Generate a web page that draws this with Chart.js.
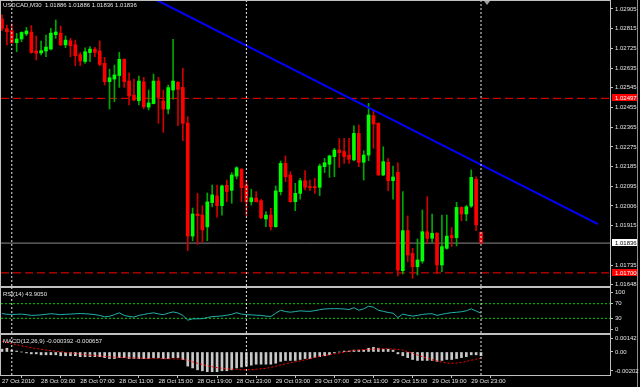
<!DOCTYPE html>
<html>
<head>
<meta charset="utf-8">
<script src="https://cdn.jsdelivr.net/npm/chart.js@4.4.0/dist/chart.umd.min.js"></script>
<style>
  html, body { margin: 0; padding: 0; background: #000; }
  #wrap { position: relative; width: 640px; height: 387px; overflow: hidden; background: #000; }
  #wrap canvas { position: absolute; left: 0; }
</style>
</head>
<body>
<div id="wrap">
  <canvas id="main" width="640" height="287" style="top:0"></canvas>
  <canvas id="rsi" width="640" height="47" style="top:287px"></canvas>
  <canvas id="macd" width="640" height="53" style="top:334px"></canvas>
</div>
<script>
// USDCAD M30, one entry per bar, first bar 27 Oct 23:00
const open = [1.02859,1.02815,1.02805,1.02751,1.02768,1.02791,1.02800,1.02713,1.02704,1.02713,
  1.02722,1.02788,1.02795,1.02741,1.02760,1.02742,1.02696,1.02665,1.02706,1.02722,
  1.02713,1.02657,1.02573,1.02585,1.02601,1.02675,1.02576,1.02512,1.02486,1.02572,
  1.02457,1.02473,1.02576,1.02485,1.02448,1.02535,1.02570,1.02547,1.02384,1.01868,
  1.01969,1.01964,1.01910,1.02021,1.02051,1.02007,1.02100,1.02077,1.02142,1.02173,
  1.02101,1.02025,1.02042,1.02030,1.01946,1.01964,1.01911,1.02071,1.02200,1.02147,
  1.02025,1.02063,1.02121,1.02094,1.02094,1.02091,1.02185,1.02196,1.02231,1.02261,
  1.02254,1.02238,1.02216,1.02337,1.02205,1.02238,1.02418,1.02383,1.02147,1.02205,
  1.02121,1.02159,1.01710,1.01893,1.01789,1.01728,1.01754,1.01888,1.01858,1.01881,
  1.01736,1.01812,1.01871,1.01861,1.01999,1.01969,1.02005,1.02127,1.01886];
const high = [1.02878,1.02832,1.02837,1.02794,1.02801,1.02821,1.02829,1.02782,1.02759,1.02786,
  1.02817,1.02855,1.02827,1.02782,1.02771,1.02763,1.02706,1.02728,1.02733,1.02730,
  1.02759,1.02684,1.02630,1.02649,1.02707,1.02678,1.02614,1.02585,1.02599,1.02593,
  1.02535,1.02608,1.02593,1.02535,1.02558,1.02767,1.02573,1.02634,1.02413,1.01996,
  1.02063,1.02007,1.02065,1.02101,1.02101,1.02101,1.02124,1.02158,1.02185,1.02177,
  1.02124,1.02082,1.02071,1.02036,1.01980,1.01995,1.02097,1.02211,1.02234,1.02162,
  1.02109,1.02132,1.02167,1.02124,1.02132,1.02197,1.02223,1.02238,1.02269,1.02314,
  1.02314,1.02314,1.02371,1.02375,1.02258,1.02474,1.02444,1.02386,1.02276,1.02223,
  1.02188,1.02203,1.02071,1.01960,1.01812,1.01855,1.01987,1.02048,1.01969,1.01884,
  1.01964,1.01964,1.01907,1.02022,1.02002,1.02008,1.02170,1.02139,1.01886];
const low = [1.02806,1.02741,1.02748,1.02710,1.02756,1.02783,1.02703,1.02672,1.02695,1.02687,
  1.02718,1.02771,1.02738,1.02728,1.02687,1.02646,1.02646,1.02657,1.02665,1.02687,
  1.02645,1.02558,1.02448,1.02482,1.02547,1.02547,1.02467,1.02485,1.02467,1.02450,
  1.02444,1.02471,1.02383,1.02342,1.02426,1.02493,1.02372,1.02304,1.01802,1.01846,
  1.01830,1.01840,1.01847,1.02002,1.01954,1.01964,1.02025,1.02018,1.02129,1.02025,
  1.01960,1.02010,1.02024,1.01948,1.01911,1.01896,1.01908,1.02056,1.02117,1.02022,
  1.01984,1.02037,1.02079,1.02075,1.02063,1.02053,1.02158,1.02136,1.02139,1.02182,
  1.02200,1.02200,1.02211,1.02185,1.02124,1.02212,1.02269,1.02145,1.02144,1.02075,
  1.02037,1.01686,1.01695,1.01751,1.01675,1.01690,1.01744,1.01835,1.01840,1.01698,
  1.01706,1.01808,1.01820,1.01823,1.01938,1.01938,1.01999,1.01893,1.01836];
const close = [1.02817,1.02801,1.02751,1.02768,1.02798,1.02805,1.02706,1.02703,1.02715,1.02731,
  1.02795,1.02800,1.02741,1.02763,1.02738,1.02692,1.02668,1.02710,1.02722,1.02707,
  1.02652,1.02573,1.02591,1.02604,1.02675,1.02573,1.02508,1.02490,1.02576,1.02459,
  1.02476,1.02576,1.02502,1.02448,1.02546,1.02576,1.02538,1.02383,1.01868,1.01969,
  1.01961,1.01896,1.02024,1.02056,1.02007,1.02097,1.02071,1.02147,1.02180,1.02089,
  1.02025,1.02043,1.02025,1.01952,1.01964,1.01911,1.02074,1.02200,1.02139,1.02025,
  1.02063,1.02121,1.02091,1.02089,1.02089,1.02188,1.02203,1.02234,1.02261,1.02249,
  1.02231,1.02219,1.02337,1.02205,1.02238,1.02421,1.02380,1.02147,1.02208,1.02121,
  1.02138,1.01713,1.01893,1.01782,1.01728,1.01759,1.01888,1.01858,1.01881,1.01736,
  1.01820,1.01868,1.01861,1.01999,1.01969,1.02002,1.02136,1.01919,1.01836];

const rsi = [43,41,40.5,41,41.5,40,38,38.5,39.5,41,
  42.5,41.5,40,41,41.5,42.5,43,42.5,41.5,40,
  38,34,35.5,40,45,38,35,33.5,38,40.5,
  43,45,42,40,44,47.5,44.5,38,25,28.5,
  28.8,29,32,34.8,35.5,36.5,38.5,41,45.3,41.5,
  40,39.5,38.5,38,36,35,44,52,48.5,46.7,
  48.5,50.4,49.5,49,51,53.5,55.5,56.2,56.5,56.2,
  55.5,54,59,52,56,63,60.5,52,49,46,
  44,32.2,41.6,38.5,36,38,40.5,42,42.5,38,
  41,43.5,45.5,46.5,48,50.5,56,50,43.905];

const macdMain = [0.00030,0.00040,0.00020,0.00010,0.00000,-0.00010,-0.00020,-0.00020,-0.00030,-0.00030,
  -0.00030,-0.00030,-0.00040,-0.00040,-0.00040,-0.00040,-0.00050,-0.00050,-0.00050,-0.00050,
  -0.00050,-0.00060,-0.00070,-0.00070,-0.00060,-0.00060,-0.00070,-0.00070,-0.00070,-0.00070,
  -0.00070,-0.00060,-0.00060,-0.00070,-0.00070,-0.00060,-0.00060,-0.00080,-0.00150,-0.00170,
  -0.00190,-0.00200,-0.00210,-0.00210,-0.00210,-0.00200,-0.00200,-0.00190,-0.00170,-0.00160,
  -0.00150,-0.00140,-0.00130,-0.00130,-0.00130,-0.00130,-0.00120,-0.00100,-0.00090,-0.00090,
  -0.00090,-0.00080,-0.00070,-0.00070,-0.00060,-0.00050,-0.00040,-0.00030,-0.00010,0.00000,
  0.00010,0.00010,0.00020,0.00020,0.00020,0.00040,0.00050,0.00040,0.00030,0.00030,
  0.00020,-0.00020,-0.00040,-0.00060,-0.00080,-0.00090,-0.00090,-0.00090,-0.00090,-0.00100,
  -0.00090,-0.00080,-0.00080,-0.00070,-0.00060,-0.00050,-0.00030,-0.00030,-0.000392];
const macdSignal = [0.00115,0.00102,0.00090,0.00078,0.00066,0.00056,0.00046,0.00037,0.00029,0.00021,
  0.00014,0.00008,0.00002,-0.00004,-0.00010,-0.00016,-0.00022,-0.00028,-0.00033,-0.00038,
  -0.00043,-0.00047,-0.00051,-0.00055,-0.00058,-0.00060,-0.00062,-0.00064,-0.00066,-0.00067,
  -0.00068,-0.00069,-0.00070,-0.00071,-0.00072,-0.00073,-0.00074,-0.00076,-0.00090,-0.00104,
  -0.00120,-0.00134,-0.00146,-0.00157,-0.00166,-0.00174,-0.00180,-0.00184,-0.00187,-0.00189,
  -0.00190,-0.00188,-0.00184,-0.00179,-0.00174,-0.00164,-0.00152,-0.00138,-0.00126,-0.00114,
  -0.00104,-0.00096,-0.00084,-0.00072,-0.00057,-0.00046,-0.00036,-0.00028,-0.00021,-0.00012,
  -0.00004,0.00010,0.00016,0.00021,0.00025,0.00028,0.00031,0.00033,0.00034,0.00035,
  0.00032,0.00027,0.00020,0.00004,-0.00014,-0.00032,-0.00050,-0.00067,-0.00082,-0.00096,
  -0.00108,-0.00118,-0.00120,-0.00118,-0.00112,-0.00100,-0.00088,-0.00076,-0.000657];

const timeTickIdx = [0, 8, 16, 24, 32, 40, 48, 56, 64, 72, 80, 88, 96];
const timeLabels = ['27 Oct 2010', '28 Oct 03:00', '28 Oct 07:00', '28 Oct 11:00', '28 Oct 15:00',
  '28 Oct 19:00', '28 Oct 23:00', '29 Oct 03:00', '29 Oct 07:00', '29 Oct 11:00',
  '29 Oct 15:00', '29 Oct 19:00', '29 Oct 23:00'];
const priceTicks = [1.02905, 1.02815, 1.02725, 1.02635, 1.02545, 1.02455, 1.02365, 1.02275,
  1.02185, 1.02095, 1.02006, 1.01915, 1.01735, 1.01648];
const rsiTicks = [100, 70, 30, 0];
const rsiLevels = [70, 30];
const macdTicks = [0.00142, 0, -0.00202];
const macdTickText = ['0.00142', '0.00', '-0.00202'];

const separatorIdx = [2, 50, 98];
const redLevels = [1.02497, 1.01700];
const bidPrice = 1.01836;
const trendStart = [31.61, 1.02946];
const trendEnd = [121.93, 1.01923];
const shiftMarkIdx = 99.2;

const headerText = 'USDCAD,M30  1.01886 1.01886 1.01836 1.01836';
const rsiText = 'RSI(14) 43.9050';
const macdText = 'MACD(12,26,9) -0.000392 -0.000657';

const FONT = '"Liberation Sans", Arial, sans-serif';
const TXT = '#e4e4e4';
const FRAME = '#c0c0c0';
const xMin = -0.205, xMax = 124.39;

const paneFrame = {
    id: 'paneFrame',
    beforeDraw(chart) {
        // window edge on the far right, under the axis labels
        const {ctx} = chart;
        ctx.save();
        ctx.fillStyle = '#909090';
        ctx.fillRect(chart.width - 3, 0, 1, chart.height);
        ctx.restore();
    },
    afterDraw(chart, args, opts) {
        const {ctx, chartArea: a} = chart;
        ctx.save();
        ctx.strokeStyle = FRAME;
        ctx.lineWidth = 1;
        ctx.strokeRect(a.left - 0.5, a.top - 0.5, a.right - a.left + 1, a.bottom - a.top + 1);
        if (opts.shiftMark !== undefined) {
            const sx = Math.round(chart.scales.x.getPixelForValue(opts.shiftMark));
            ctx.fillStyle = '#a0a0a0';
            ctx.beginPath();
            ctx.moveTo(sx - 3, a.top);
            ctx.lineTo(sx + 3, a.top);
            ctx.lineTo(sx, a.top + 4);
            ctx.closePath();
            ctx.fill();
        }
        ctx.font = '6px ' + FONT;
        ctx.fillStyle = TXT;
        ctx.textBaseline = 'middle';
        ctx.textAlign = 'left';
        if (opts.text) ctx.fillText(opts.text, a.left + 2, a.top + opts.dy);
        (opts.boxes || []).forEach(b => {
            const y = chart.scales.y.getPixelForValue(b.value);
            ctx.fillStyle = b.bg;
            ctx.fillRect(a.right + 2, Math.round(y) - 4, 25, 7);
            ctx.fillStyle = b.fg;
            ctx.fillText(b.value.toFixed(5), a.right + 5, y);
        });
        ctx.restore();
    }
};
Chart.register(paneFrame);

function xAxis(show) {
    return {
        type: 'linear', min: xMin, max: xMax, offset: false, display: show,
        grid: {display: show, drawOnChartArea: false, tickLength: 3, color: FRAME},
        border: {display: false},
        ticks: {
            color: TXT, font: {family: FONT, size: 6}, padding: 0, align: 'start',
            maxRotation: 0, autoSkip: false,
            callback: (v) => timeLabels[timeTickIdx.indexOf(v)]
        },
        afterBuildTicks: (s) => { s.ticks = timeTickIdx.map(v => ({value: v})); },
        afterFit: (s) => {
            s.height = show ? 12 : 0;
            s.paddingLeft = 0;
            s.paddingRight = 0;
        }
    };
}

function yAxis(min, max, vals, fmt) {
    return {
        position: 'right', min: min, max: max,
        grid: {drawOnChartArea: false, tickLength: 3, color: FRAME},
        border: {display: false},
        ticks: {color: TXT, font: {family: FONT, size: 6}, padding: 2, autoSkip: false, callback: fmt},
        afterBuildTicks: (s) => { s.ticks = vals.map(v => ({value: v})); },
        afterFit: (s) => { s.width = 30; s.paddingTop = 0; s.paddingBottom = 0; }
    };
}

function separators(lo, hi) {
    return separatorIdx.map(i => ({
        type: 'line',
        data: [{x: i, y: lo}, {x: i, y: hi}],
        borderColor: '#e8e8e8', borderWidth: 1, borderDash: [2, 2],
        pointRadius: 0, order: 0
    }));
}

function hLine(value, color, dash, order) {
    return {
        type: 'line',
        data: [{x: xMin, y: value}, {x: xMax, y: value}],
        borderColor: color, borderWidth: 1, borderDash: dash,
        pointRadius: 0, order: order
    };
}

function baseOptions(pad, scales, frame) {
    return {
        responsive: false, animation: false, events: [],
        layout: {padding: pad},
        plugins: {legend: {display: false}, tooltip: {enabled: false}, paneFrame: frame},
        scales: scales
    };
}

(function(){
    const bull = close.map((c, i) => c >= open[i]);
    const pMin = 1.016401, pMax = 1.029415;

    new Chart(document.getElementById('main'), {
        type: 'bar',
        data: {
            datasets: [
                hLine(redLevels[0], '#ff0000', [8, 4], 5),
                hLine(redLevels[1], '#ff0000', [8, 4], 5),
                hLine(bidPrice, '#8c8c8c', [], 5),
                {
                    type: 'bar',
                    data: low.map((l, i) => ({x: i, y: [l, high[i]]})),
                    backgroundColor: bull.map(b => b ? '#00a800' : '#d00000'),
                    barThickness: 1, grouped: false, order: 4
                },
                {
                    type: 'bar',
                    data: open.map((o, i) => ({x: i, y: [o, close[i]]})),
                    backgroundColor: bull.map(b => b ? '#00ff00' : '#ff0000'),
                    barThickness: 3, minBarLength: 1, grouped: false, order: 3
                },
                {
                    type: 'line',
                    data: [{x: trendStart[0], y: trendStart[1]}, {x: trendEnd[0], y: trendEnd[1]}],
                    borderColor: '#0000ff', borderWidth: 2, pointRadius: 0, order: 1
                },
                ...separators(pMin, pMax)
            ]
        },
        options: baseOptions({left: 1, top: 1, right: 0, bottom: 1}, {
            x: xAxis(false),
            y: yAxis(pMin, pMax, priceTicks, (v) => v.toFixed(5))
        }, {
            text: headerText, dy: 4, shiftMark: shiftMarkIdx,
            boxes: [
                {value: redLevels[0], bg: '#ff0000', fg: '#ffffff'},
                {value: bidPrice, bg: '#ffffff', fg: '#000000'},
                {value: redLevels[1], bg: '#ff0000', fg: '#ffffff'}
            ]
        })
    });

    new Chart(document.getElementById('rsi'), {
        type: 'line',
        data: {
            datasets: [
                hLine(rsiLevels[0], '#00d000', [2, 2], 3),
                hLine(rsiLevels[1], '#00d000', [2, 2], 3),
                {
                    type: 'line',
                    data: rsi.map((v, i) => ({x: i, y: v})),
                    borderColor: '#20b2aa', borderWidth: 1, pointRadius: 0, order: 1
                },
                ...separators(-10.1, 112.8)
            ]
        },
        options: baseOptions({left: 1, top: 1, right: 0, bottom: 1}, {
            x: xAxis(false),
            y: yAxis(-10.1, 112.8, rsiTicks, (v) => String(v))
        }, {text: rsiText, dy: 6})
    });

    new Chart(document.getElementById('macd'), {
        type: 'bar',
        data: {
            datasets: [
                {
                    type: 'bar',
                    data: macdMain.map((v, i) => ({x: i, y: v})),
                    backgroundColor: '#c8c8c8',
                    barThickness: 2, grouped: false, order: 3
                },
                {
                    type: 'line',
                    data: macdSignal.map((v, i) => ({x: i, y: v})),
                    borderColor: '#ff0000', borderWidth: 1, borderDash: [2, 2], pointRadius: 0, order: 1
                },
                ...separators(-0.00245, 0.00181)
            ]
        },
        options: baseOptions({left: 1, top: 1, right: 0, bottom: 0}, {
            x: xAxis(true),
            y: yAxis(-0.00245, 0.00181, macdTicks, (v, i) => macdTickText[i])
        }, {text: macdText, dy: 6})
    });
})();
</script>
</body>
</html>
